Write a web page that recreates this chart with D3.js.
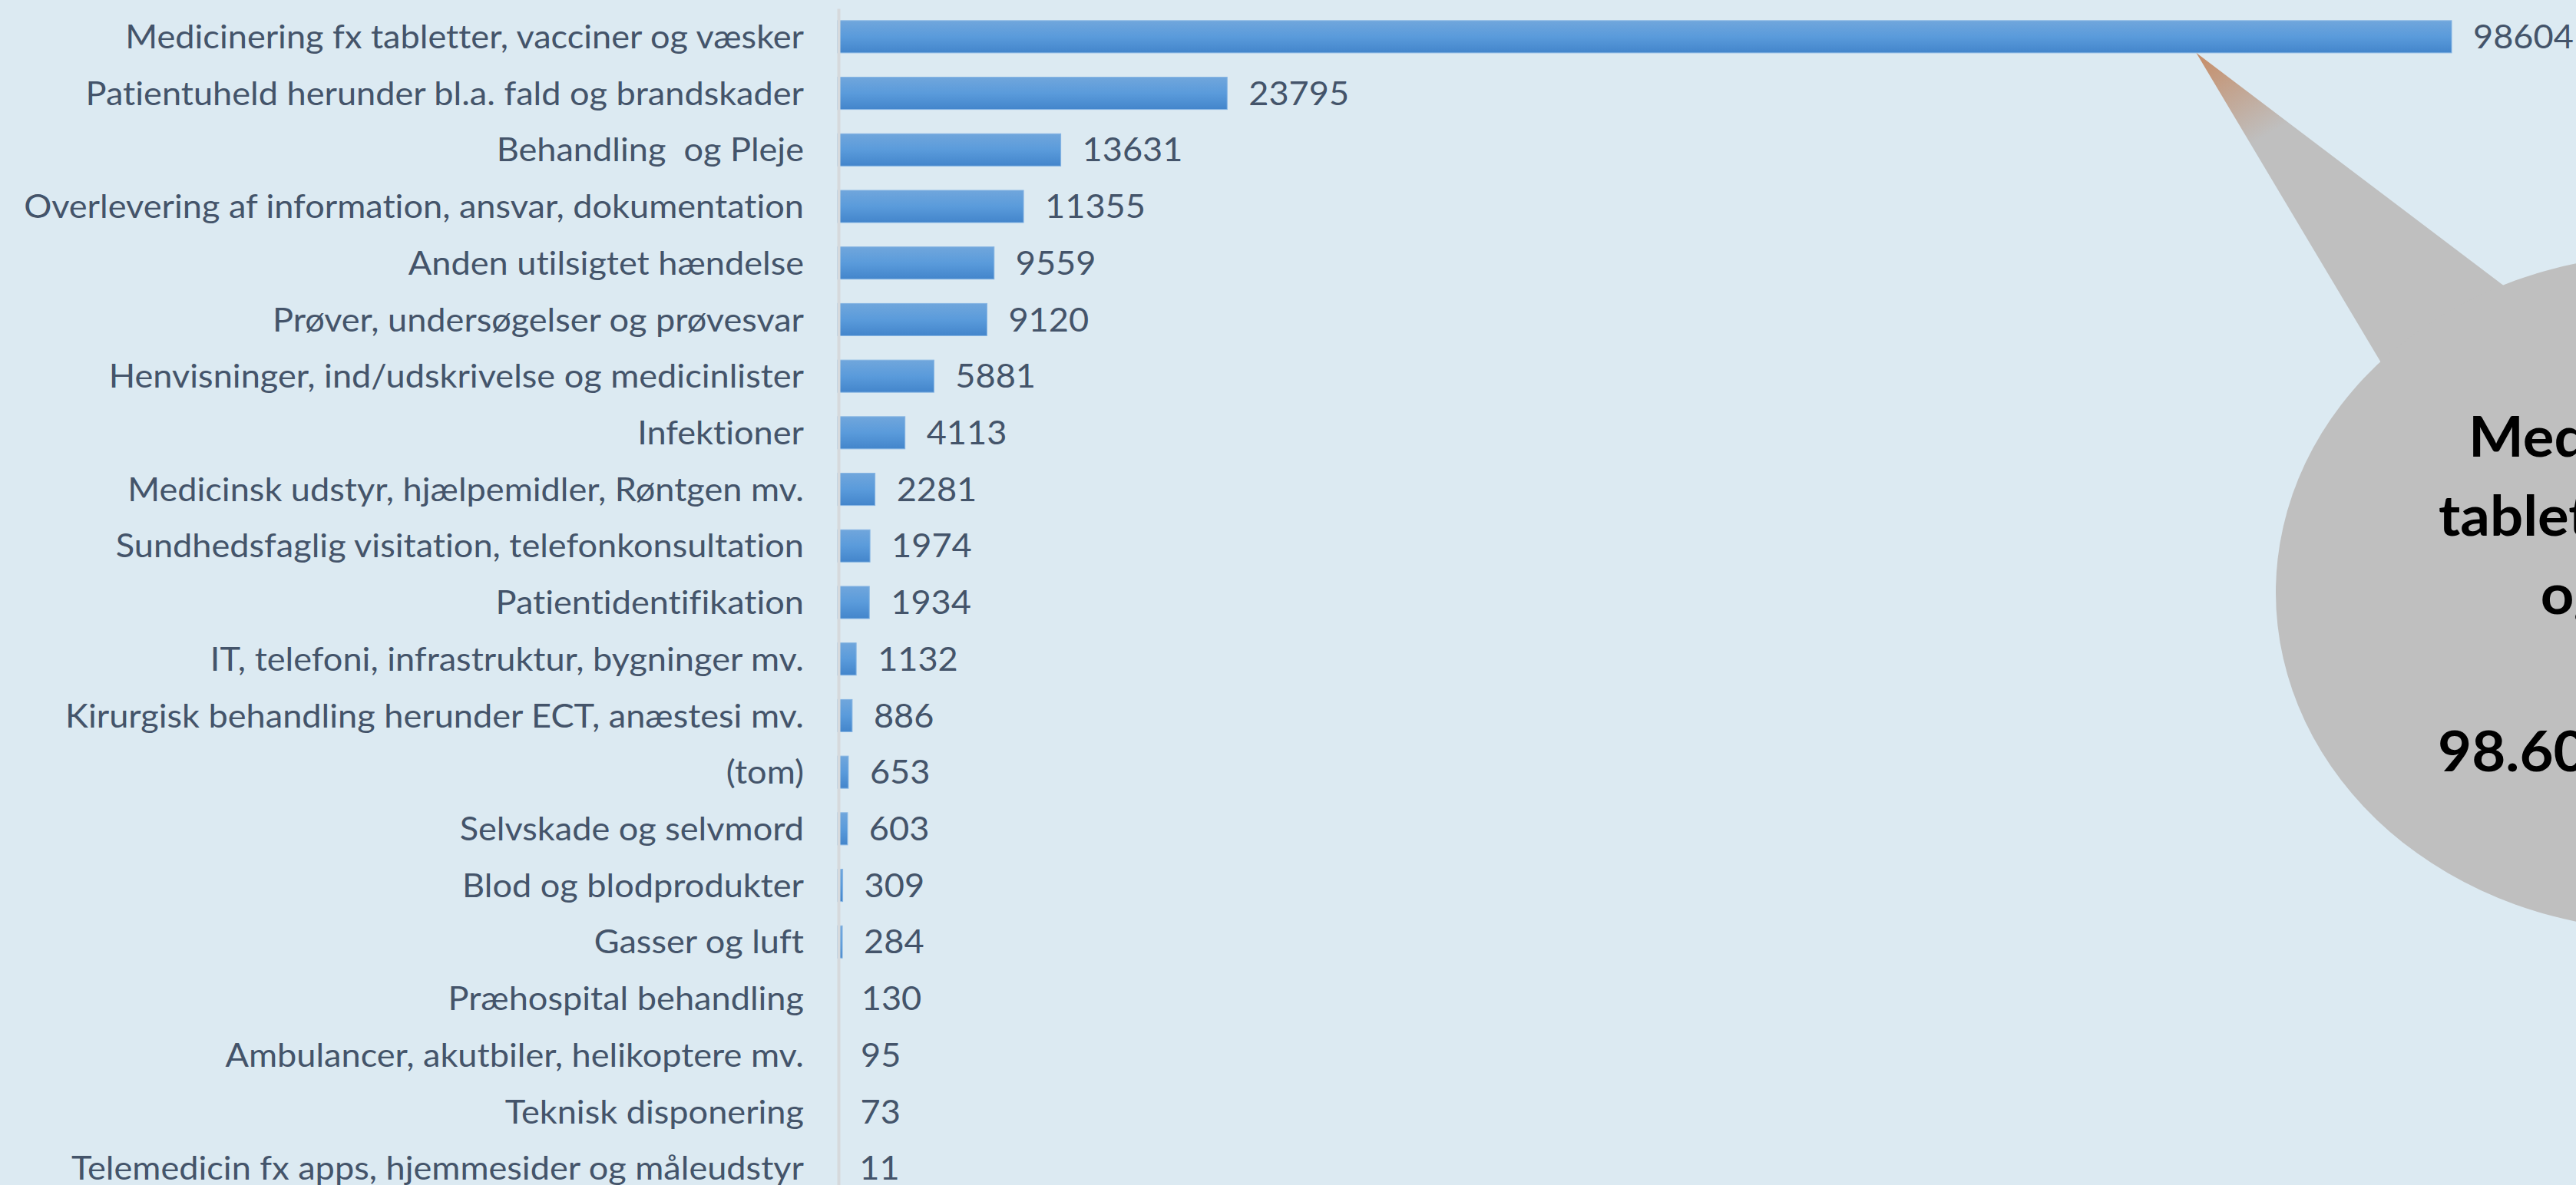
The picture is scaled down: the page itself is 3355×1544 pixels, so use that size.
<!DOCTYPE html>
<html><head><meta charset="utf-8">
<script src="https://cdn.jsdelivr.net/npm/d3@7"></script>
<style>html,body{margin:0;padding:0;background:#dceaf2;overflow:hidden} text{font-variant-ligatures:none;font-feature-settings:"liga" 0,"clig" 0}</style>
</head><body><svg id="c" width="3355" height="1544"></svg>
<script>
const categories = [
  "Medicinering fx tabletter, vacciner og væsker",
  "Patientuheld herunder bl.a. fald og brandskader",
  "Behandling  og Pleje",
  "Overlevering af information, ansvar, dokumentation",
  "Anden utilsigtet hændelse",
  "Prøver, undersøgelser og prøvesvar",
  "Henvisninger, ind/udskrivelse og medicinlister",
  "Infektioner",
  "Medicinsk udstyr, hjælpemidler, Røntgen mv.",
  "Sundhedsfaglig visitation, telefonkonsultation",
  "Patientidentifikation",
  "IT, telefoni, infrastruktur, bygninger mv.",
  "Kirurgisk behandling herunder ECT, anæstesi mv.",
  "(tom)",
  "Selvskade og selvmord",
  "Blod og blodprodukter",
  "Gasser og luft",
  "Præhospital behandling",
  "Ambulancer, akutbiler, helikoptere mv.",
  "Teknisk disponering",
  "Telemedicin fx apps, hjemmesider og måleudstyr"
];
const values = [98604, 23795, 13631, 11355, 9559, 9120, 5881, 4113, 2281, 1974, 1934, 1132, 886, 653, 603, 309, 284, 130, 95, 73, 11];
const calloutLines = ["Medicinering fx", "tabletter, vacciner", "og væsker", "", "98.604 hændelser"];

const W = 3355, H = 1544;
const svg = d3.select('#c');
svg.append('rect').attr('width', W).attr('height', H).attr('fill', '#dceaf2');

const defs = svg.append('defs');
const bg = defs.append('linearGradient').attr('id', 'barGrad').attr('x1', 0).attr('y1', 0).attr('x2', 0).attr('y2', 1);
bg.append('stop').attr('offset', '0%').attr('stop-color', '#70a6dc');
bg.append('stop').attr('offset', '50%').attr('stop-color', '#5a9bdb');
bg.append('stop').attr('offset', '100%').attr('stop-color', '#4385cb');

const x = d3.scaleLinear().domain([0, d3.max(values)]).range([1091, 3193]);
const y = d3.scaleBand().domain(categories).range([11, 1559]).paddingInner(0.43).paddingOuter(0.215);
const data = categories.map((c, i) => ({c, v: values[i]}));

// measure horizontal compression to emulate narrow Calibri
const probe = svg.append('text').style('font-family', 'Lato').style('font-size', '42px')
  .text("Overlevering af information, ansvar, dokumentation");
const sx = 1016 / probe.node().getComputedTextLength();
probe.remove();

// bars
svg.append('g').selectAll('rect').data(data).join('rect')
  .attr('x', x(0))
  .attr('y', d => y(d.c))
  .attr('width', d => Math.max(0, x(d.v) - x(0)))
  .attr('height', y.bandwidth())
  .attr('fill', 'url(#barGrad)')
  .attr('stroke', d => (x(d.v) - x(0)) > 4 ? '#86b5e3' : 'none')
  .attr('stroke-width', 1);

// axis with category labels
const pad = 45;
const ax = svg.append('g').attr('transform', `translate(${x(0) + 1},0)`)
  .call(d3.axisLeft(y).tickSize(0).tickSizeOuter(0).tickPadding(pad));
ax.select('.domain').attr('stroke', '#d6d9dc').attr('stroke-width', 4);
ax.selectAll('.tick text')
  .style('font-family', 'Lato').style('font-size', '42px').style('white-space', 'pre')
  .attr('fill', '#44546a')
  .attr('x', -pad / sx)
  .attr('dy', '0.36em')
  .attr('transform', `scale(${sx},1)`);

// value labels
svg.append('g').selectAll('text').data(data).join('text')
  .attr('transform', d => `translate(${x(d.v) + 28},${y(d.c) + y.bandwidth() / 2}) scale(${sx},1)`)
  .attr('dy', '0.36em')
  .style('font-family', 'Lato').style('font-size', '42px')
  .attr('fill', '#44546a')
  .text(d => d.v);

// callout bubble
const tipX = x(83000), tipY = y(categories[0]) + y.bandwidth();
const tg = defs.append('linearGradient').attr('id', 'tailGrad').attr('gradientUnits', 'userSpaceOnUse')
  .attr('x1', tipX).attr('y1', tipY).attr('x2', tipX + 70).attr('y2', tipY + 120);
tg.append('stop').attr('offset', '0%').attr('stop-color', '#c68c66');
tg.append('stop').attr('offset', '100%').attr('stop-color', '#bfbfbf');

const bub = svg.append('g');
bub.append('path')
  .attr('d', d3.line()([[tipX, tipY], [3102, 474], [3300, 620], [3262, 373]]) + 'Z')
  .attr('fill', 'url(#tailGrad)');
bub.append('ellipse').attr('cx', 3469).attr('cy', 772).attr('rx', 505).attr('ry', 440).attr('fill', '#bfbfbf');

const probe2 = svg.append('text').style('font-family', 'Lato').style('font-weight', 'bold').style('font-size', '72px')
  .text(calloutLines[1]);
const sx2 = 608 / probe2.node().getComputedTextLength();
probe2.remove();

bub.selectAll('text').data(calloutLines).join('text')
  .attr('transform', (d, i) => `translate(3480,${595 + i * 102.5}) scale(${sx2},1)`)
  .attr('text-anchor', 'middle')
  .style('font-family', 'Lato').style('font-weight', 'bold').style('font-size', '72px')
  .attr('fill', '#000')
  .text(d => d);
</script>
</body></html>
